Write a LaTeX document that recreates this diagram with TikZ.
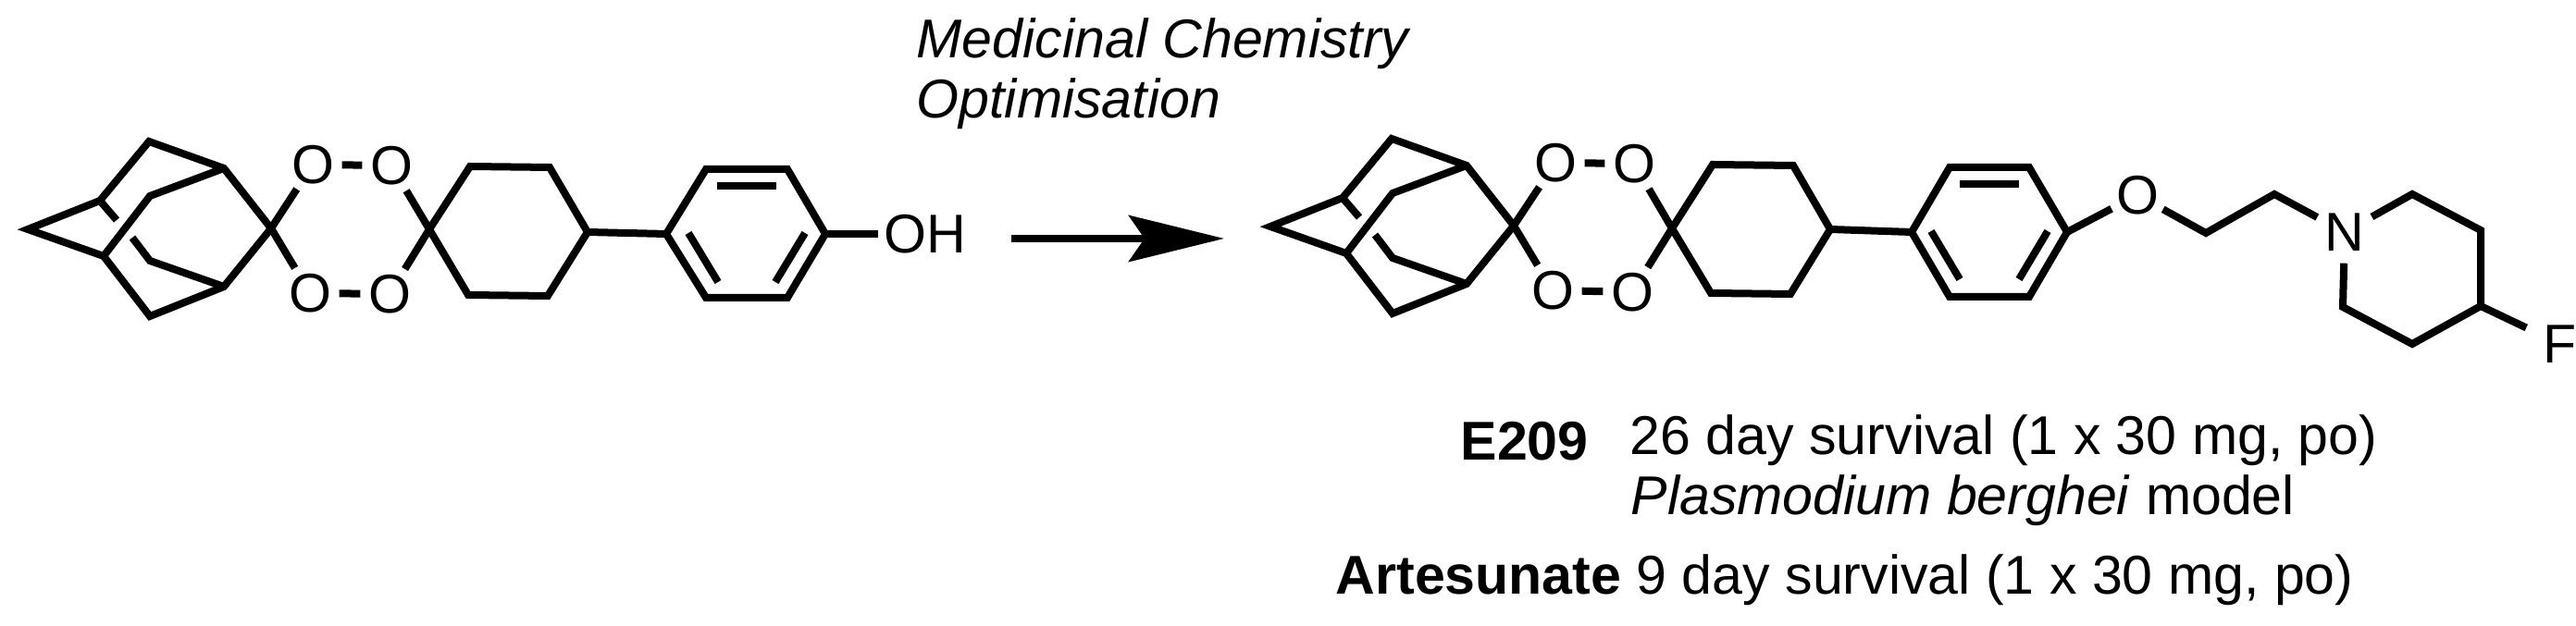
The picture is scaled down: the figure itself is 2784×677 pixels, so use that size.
\documentclass[tikz,border=0pt]{standalone}
\usepackage{fontspec}
\setmainfont{Liberation Sans}
\usetikzlibrary{arrows.meta}
\tikzset{
    bond/.style={line width=0.08cm},
    atom/.style={circle, inner sep=0pt, minimum size=0.58cm, font=\fontsize{16.8}{19}\selectfont},
    texto/.style={anchor=base west, inner sep=0pt, font=\fontsize{16.8}{19}\selectfont},
    flecha/.style={line width=0.08cm, -{Stealth[length=1.03cm, width=0.5cm, inset=0.17cm]}}
}
\begin{document}
\begin{tikzpicture}[x=0.01cm, y=-0.01cm]
    \useasboundingbox (0,0) rectangle (2784,677);

    % Adamantano izquierdo
    \coordinate (a1) at (30,248);
    \coordinate (a2) at (108,217);
    \coordinate (a3) at (161,153);
    \coordinate (a4) at (242,182);
    \coordinate (a5) at (293,247);
    \coordinate (a6) at (242,310);
    \coordinate (a7) at (162,342);
    \coordinate (a8) at (112,277);
    \coordinate (a9) at (162,212);
    \coordinate (a10) at (162,282);
    \coordinate (a11) at (126,238);
    \coordinate (a12) at (143,257);
    \draw[bond] (a1) -- (a2) -- (a3) -- (a4) -- (a5) -- (a6) -- (a7) -- (a8) -- cycle;
    \draw[bond] (a8) -- (a9) -- (a4);
    \draw[bond] (a2) -- (a11);
    \draw[bond] (a12) -- (a10) -- (a6);

    % Anillo de peroxido izquierdo
    \node (o1) at (338,178) [atom] {O};
    \node (o2) at (423,179) [atom] {O};
    \node (o3) at (335,317) [atom] {O};
    \node (o4) at (421,318) [atom] {O};
    \coordinate (c1) at (464,248);
    \draw[bond] (a5) -- (o1);
    \draw[bond] (a5) -- (o3);
    \draw[bond] (o1) -- (o2);
    \draw[bond] (o3) -- (o4);
    \draw[bond] (c1) -- (o2);
    \draw[bond] (c1) -- (o4);

    % Ciclohexano y fenol
    \coordinate (c2) at (508,180);
    \coordinate (c3) at (594,181);
    \coordinate (c4) at (635,251);
    \coordinate (c5) at (592,320);
    \coordinate (c6) at (506,319);
    \draw[bond] (c1) -- (c2) -- (c3) -- (c4) -- (c5) -- (c6) -- cycle;
    \coordinate (p1) at (720,253);
    \coordinate (p2) at (763,183);
    \coordinate (p3) at (851,183);
    \coordinate (p4) at (892,253);
    \coordinate (p5) at (851,322);
    \coordinate (p6) at (763,322);
    \draw[bond] (p1) -- (p2) -- (p3) -- (p4) -- (p5) -- (p6) -- cycle;
    \draw[bond] (c4) -- (p1);
    \coordinate (p7) at (775,201);
    \coordinate (p8) at (839,201);
    \coordinate (p9) at (744,252);
    \coordinate (p10) at (776,305);
    \coordinate (p11) at (870,252);
    \coordinate (p12) at (838,305);
    \draw[bond] (p7) -- (p8);
    \draw[bond] (p9) -- (p10);
    \draw[bond] (p11) -- (p12);
    \node (oh) at (949,253) [anchor=west, inner sep=0.06cm, font=\fontsize{16.8}{19}\selectfont] {OH};
    \draw[bond] (p4) -- (oh);

    % Flecha
    \coordinate (inicio) at (1093,258);
    \coordinate (fin) at (1323,258);
    \draw[flecha] (inicio) -- (fin);
    \node (medchem) at (990,63) [texto] {\itshape Medicinal Chemistry};
    \node (optim) at (990,128) [texto] {\itshape Optimisation};

    % Adamantano derecho
    \coordinate (b1) at (1373,245);
    \coordinate (b2) at (1451,214);
    \coordinate (b3) at (1504,150);
    \coordinate (b4) at (1585,179);
    \coordinate (b5) at (1636,244);
    \coordinate (b6) at (1585,307);
    \coordinate (b7) at (1505,339);
    \coordinate (b8) at (1455,274);
    \coordinate (b9) at (1505,209);
    \coordinate (b10) at (1505,279);
    \coordinate (b11) at (1469,235);
    \coordinate (b12) at (1486,254);
    \draw[bond] (b1) -- (b2) -- (b3) -- (b4) -- (b5) -- (b6) -- (b7) -- (b8) -- cycle;
    \draw[bond] (b8) -- (b9) -- (b4);
    \draw[bond] (b2) -- (b11);
    \draw[bond] (b12) -- (b10) -- (b6);

    % Anillo de peroxido derecho
    \node (o5) at (1681,176) [atom] {O};
    \node (o6) at (1766,177) [atom] {O};
    \node (o7) at (1678,314) [atom] {O};
    \node (o8) at (1764,316) [atom] {O};
    \coordinate (d1) at (1807,247);
    \draw[bond] (b5) -- (o5);
    \draw[bond] (b5) -- (o7);
    \draw[bond] (o5) -- (o6);
    \draw[bond] (o7) -- (o8);
    \draw[bond] (d1) -- (o6);
    \draw[bond] (d1) -- (o8);

    % Ciclohexano y fenilo
    \coordinate (d2) at (1851,178);
    \coordinate (d3) at (1938,179);
    \coordinate (d4) at (1978,248);
    \coordinate (d5) at (1935,318);
    \coordinate (d6) at (1849,317);
    \draw[bond] (d1) -- (d2) -- (d3) -- (d4) -- (d5) -- (d6) -- cycle;
    \coordinate (q1) at (2066,251);
    \coordinate (q2) at (2107,181);
    \coordinate (q3) at (2193,181);
    \coordinate (q4) at (2234,251);
    \coordinate (q5) at (2193,321);
    \coordinate (q6) at (2107,321);
    \draw[bond] (q1) -- (q2) -- (q3) -- (q4) -- (q5) -- (q6) -- cycle;
    \draw[bond] (d4) -- (q1);
    \coordinate (q7) at (2118,199);
    \coordinate (q8) at (2182,199);
    \coordinate (q9) at (2087,250);
    \coordinate (q10) at (2118,302);
    \coordinate (q11) at (2213,250);
    \coordinate (q12) at (2182,302);
    \draw[bond] (q7) -- (q8);
    \draw[bond] (q9) -- (q10);
    \draw[bond] (q11) -- (q12);

    % Cadena y piperidina
    \node (o9) at (2310,211) [atom] {O};
    \node (n1) at (2534,251) [atom, minimum size=0.66cm] {N};
    \node (f1) at (2767,372) [atom, minimum size=0.8cm] {F};
    \coordinate (e1) at (2384,252);
    \coordinate (e2) at (2458,210);
    \coordinate (r1) at (2607,210);
    \coordinate (r2) at (2681,249);
    \coordinate (r3) at (2681,331);
    \coordinate (r4) at (2607,372);
    \coordinate (r5) at (2532,332);
    \draw[bond] (q4) -- (o9);
    \draw[bond] (o9) -- (e1) -- (e2) -- (n1);
    \draw[bond] (n1) -- (r1) -- (r2) -- (r3) -- (r4) -- (r5) -- (n1);
    \draw[bond] (r3) -- (f1);

    % Etiquetas
    \node (e209) at (1578,498) [texto] {\bfseries E209};
    \node (surv1) at (1761,492) [texto] {26 day survival (1 x 30 mg, po)};
    \node (modelo) at (1762,557) [texto] {\textit{Plasmodium berghei} model};
    \node (artes) at (1443,643) [texto] {\bfseries Artesunate};
    \node (surv2) at (1768,643) [texto] {9 day survival (1 x 30 mg, po)};
\end{tikzpicture}
\end{document}
